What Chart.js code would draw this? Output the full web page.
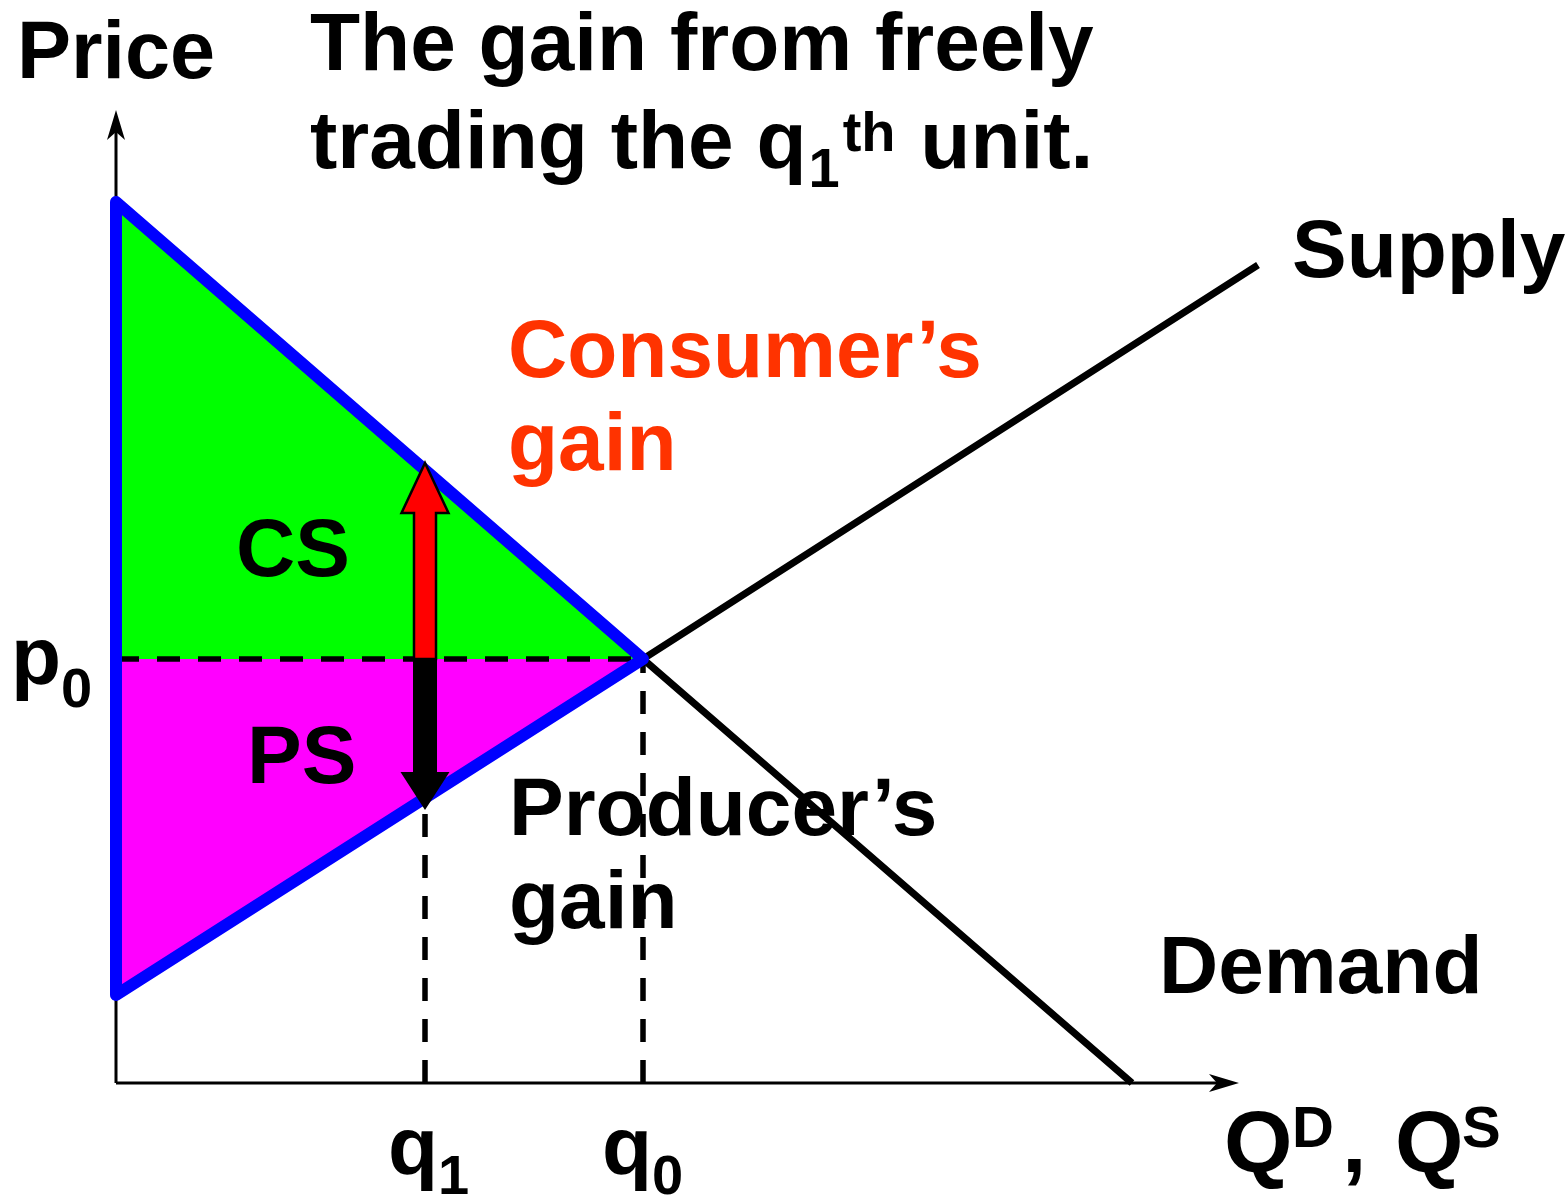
<!DOCTYPE html>
<html><head><meta charset="utf-8">
<script src="https://cdn.jsdelivr.net/npm/chart.js@4.4.0/dist/chart.umd.min.js"></script>
<style>html,body{margin:0;padding:0;background:#fff;}#wrap{width:1568px;height:1196px;position:relative;}</style>
</head><body><div id="wrap"><canvas id="c"></canvas></div>
<script>
// ---- data (quantity / price units) ----
const demandQ = [0, 52.7, 101.6];
const demandP = [88.1, 42.4, 0];
const supplyQ = [0, 52.7, 114.2];
const supplyP = [8.8, 42.4, 81.8];
const eqQ = 52.7;      // q0
const eqP = 42.4;      // p0
const unitQ = 30.9;    // q1
const unitDemandP = 62.0;  // tip of consumer's gain arrow
const unitSupplyP = 27.3;  // tip of producer's gain arrow
const axisMaxQ = 112.3;
const axisMaxP = 97.3;

const FONT = '"Liberation Sans", Arial, Helvetica, sans-serif';

function pts(xs, ys){ return xs.map((x,i)=>({x:x,y:ys[i]})); }

const csArea = [{x:0,y:demandP[0]},{x:eqQ,y:eqP},{x:0,y:eqP}];
const psArea = [{x:0,y:eqP},{x:eqQ,y:eqP},{x:0,y:supplyP[0]}];
const surplusOutline = [{x:0,y:demandP[0]},{x:eqQ,y:eqP},{x:0,y:supplyP[0]},{x:0,y:demandP[0]}];

const base = {showLine:true, pointRadius:0, clip:false, fill:false, tension:0};

const datasets = [
  Object.assign({}, base, {label:'CS', data:csArea, fill:'shape', backgroundColor:'#00ff00', borderWidth:0, order:10}),
  Object.assign({}, base, {label:'PS', data:psArea, fill:'shape', backgroundColor:'#ff00ff', borderWidth:0, order:9}),
  Object.assign({}, base, {label:'yaxis', data:[{x:0,y:0},{x:0,y:axisMaxP-2}], borderColor:'#000', borderWidth:3, order:8}),
  Object.assign({}, base, {label:'xaxis', data:[{x:0,y:0},{x:axisMaxQ-2,y:0}], borderColor:'#000', borderWidth:3, order:8}),
  Object.assign({}, base, {label:'Demand', data:pts(demandQ,demandP), borderColor:'#000', borderWidth:7, order:7}),
  Object.assign({}, base, {label:'Supply', data:pts(supplyQ,supplyP), borderColor:'#000', borderWidth:7, order:7}),
  Object.assign({}, base, {label:'p0', data:[{x:0,y:eqP},{x:eqQ,y:eqP}], borderColor:'#000', borderWidth:5.5, borderDash:[23,18], order:6}),
  Object.assign({}, base, {label:'q1', data:[{x:unitQ,y:0},{x:unitQ,y:unitSupplyP}], borderColor:'#000', borderWidth:5.5, borderDash:[23,18], order:6}),
  Object.assign({}, base, {label:'q0', data:[{x:eqQ,y:0},{x:eqQ,y:eqP}], borderColor:'#000', borderWidth:5.5, borderDash:[23,18], order:6}),
  Object.assign({}, base, {label:'outline', data:surplusOutline, borderColor:'#0000ff', borderWidth:12, borderJoinStyle:'round', borderCapStyle:'round', order:5})
];

const overlay = {
  id:'overlay',
  afterDatasetsDraw(chart){
    const ctx = chart.ctx, xs = chart.scales.x, ys = chart.scales.y;
    const X = v=>xs.getPixelForValue(v), Y = v=>ys.getPixelForValue(v);
    ctx.save();
    // axis arrowheads
    ctx.fillStyle = '#000';
    const ox = X(0), oy = Y(0), tx = X(axisMaxQ), ty = Y(axisMaxP);
    ctx.beginPath(); ctx.moveTo(tx, oy); ctx.lineTo(tx-30, oy-9); ctx.lineTo(tx-22, oy); ctx.lineTo(tx-30, oy+9); ctx.closePath(); ctx.fill();
    ctx.beginPath(); ctx.moveTo(ox, ty); ctx.lineTo(ox-9, ty+30); ctx.lineTo(ox, ty+22); ctx.lineTo(ox+9, ty+30); ctx.closePath(); ctx.fill();
    // gain arrows at q1
    const ax = X(unitQ), pY = Y(eqP), topY = Y(unitDemandP), botY = Y(unitSupplyP);
    const sw = 11, hw = 23.5;
    // red (consumer) arrow
    ctx.beginPath();
    ctx.moveTo(ax-sw, pY); ctx.lineTo(ax-sw, topY+50); ctx.lineTo(ax-hw, topY+50); ctx.lineTo(ax, topY);
    ctx.lineTo(ax+hw, topY+50); ctx.lineTo(ax+sw, topY+50); ctx.lineTo(ax+sw, pY); ctx.closePath();
    ctx.fillStyle = '#ff0000'; ctx.fill();
    ctx.lineWidth = 2.5; ctx.strokeStyle = '#000'; ctx.lineJoin='miter'; ctx.stroke();
    // black (producer) arrow
    ctx.beginPath();
    ctx.moveTo(ax-sw-1, pY); ctx.lineTo(ax-sw-1, botY-38); ctx.lineTo(ax-hw-1, botY-38); ctx.lineTo(ax, botY);
    ctx.lineTo(ax+hw+1, botY-38); ctx.lineTo(ax+sw+1, botY-38); ctx.lineTo(ax+sw+1, pY); ctx.closePath();
    ctx.fillStyle = '#000'; ctx.fill();

    // text
    ctx.textBaseline = 'alphabetic'; ctx.textAlign = 'left';
    function t(s, x, y, size, color){ ctx.font = 'bold '+size+'px '+FONT; ctx.fillStyle = color||'#000'; ctx.fillText(s, x, y); return x + ctx.measureText(s).width; }
    t('Price', 17, 78, 81);
    t('The gain from freely', 310, 70, 82);
    let x = t('trading the q', 310, 168, 82);
    let x1 = t('1', x+2, 187, 56);
    let x2 = t('th', x1+3, 151, 56);
    t(' unit.', x2+2, 168, 82);
    t('Supply', 1292, 277, 82);
    t('Consumer\u2019s', 508, 377, 82, '#ff3300');
    t('gain', 508, 470, 82, '#ff3300');
    t('CS', 236, 576, 82);
    t('PS', 247, 783, 82);
    t('Producer\u2019s', 509, 835, 82);
    t('gain', 509, 928, 82);
    t('Demand', 1159, 993, 82);
    x = t('p', 11, 684, 82); t('0', x, 707, 56);
    x = t('q', 388, 1174, 82); t('1', x, 1194, 56);
    x = t('q', 602, 1174, 82); t('0', x, 1194, 56);
    t('Q', 1224, 1172, 88); t('D', 1292, 1147, 58); t(',', 1342, 1172, 88);
    t('Q', 1395, 1172, 88); t('S', 1462, 1147, 58);
    ctx.restore();
  }
};

new Chart(document.getElementById('c'), {
  type:'scatter',
  data:{datasets:datasets},
  options:{
    responsive:true, maintainAspectRatio:false, animation:false, devicePixelRatio:1,
    layout:{padding:{left:116, right:1568-1239, top:110, bottom:1196-1083}},
    scales:{
      x:{type:'linear', min:0, max:axisMaxQ, display:false},
      y:{type:'linear', min:0, max:axisMaxP, display:false}
    },
    plugins:{legend:{display:false}, tooltip:{enabled:false}},
    elements:{point:{radius:0}}
  },
  plugins:[overlay]
});
</script></body></html>
